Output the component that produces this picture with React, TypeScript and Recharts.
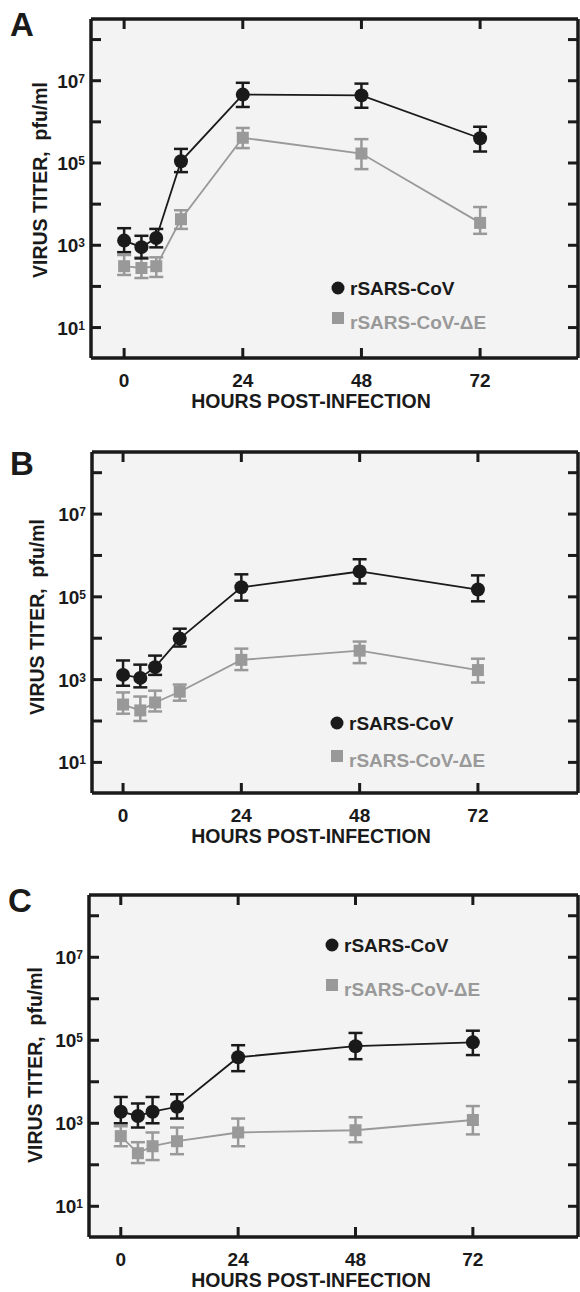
import React from "react";
import {
  LineChart,
  Line,
  XAxis,
  YAxis,
  CartesianGrid,
  ErrorBar,
} from "recharts";

// hours post-infection (first four are the early sampling points)
const HOURS = [0, 3.5, 6.5, 11.5, 24, 48, 72];

// panel A
const A_WT = [1.3e3, 9e2, 1.5e3, 1.1e5, 4.6e6, 4.4e6, 4e5];
const A_WT_HI = [2.6e3, 1.7e3, 2.5e3, 2.2e5, 8.9e6, 8.5e6, 7.6e5];
const A_WT_LO = [6.8e2, 4.8e2, 8.9e2, 6e4, 2.3e6, 2.2e6, 1.9e5];
const A_DE = [3.1e2, 2.8e2, 3.1e2, 4.3e3, 4.1e5, 1.7e5, 3.5e3];
const A_DE_HI = [5.8e2, 5.1e2, 5.1e2, 7.1e3, 7.1e5, 3.8e5, 8.5e3];
const A_DE_LO = [1.9e2, 1.6e2, 1.7e2, 2.5e3, 2.3e5, 7.1e4, 1.9e3];

// panel B
const B_WT = [1.3e3, 1.1e3, 2e3, 9.8e3, 1.7e5, 4.1e5, 1.5e5];
const B_WT_HI = [2.9e3, 2.3e3, 3.8e3, 1.7e4, 3.5e5, 8.1e5, 3.3e5];
const B_WT_LO = [7.1e2, 6.5e2, 1.3e3, 6.3e3, 8.1e4, 2.1e5, 7.8e4];
const B_DE = [2.5e2, 1.8e2, 2.8e2, 5.1e2, 3e3, 5e3, 1.7e3];
const B_DE_HI = [4.9e2, 3.9e2, 5.4e2, 7.6e2, 5.6e3, 8.3e3, 3.2e3];
const B_DE_LO = [1.5e2, 1e2, 1.7e2, 3.1e2, 1.7e3, 2.5e3, 8.5e2];

// panel C
const C_WT = [1.9e3, 1.5e3, 1.9e3, 2.5e3, 3.9e4, 7.2e4, 8.9e4];
const C_WT_HI = [4.3e3, 3e3, 4.3e3, 5e3, 7.6e4, 1.5e5, 1.7e5];
const C_WT_LO = [1e3, 7.9e2, 1e3, 1.3e3, 1.8e4, 3.5e4, 4.4e4];
const C_DE = [4.9e2, 1.9e2, 2.8e2, 3.7e2, 6e2, 6.8e2, 1.2e3];
const C_DE_HI = [8.5e2, 3.5e2, 6e2, 7.9e2, 1.3e3, 1.4e3, 2.6e3];
const C_DE_LO = [2.8e2, 1.1e2, 1.3e2, 1.8e2, 2.8e2, 3.5e2, 5.4e2];

const X_TICKS = [0, 24, 48, 72];
const Y_TICKS = [1e1, 1e2, 1e3, 1e4, 1e5, 1e6, 1e7, 1e8];
const SERIES_NAMES = ["rSARS-CoV", "rSARS-CoV-\u0394E"];

const INK = "#1a1a1a";
const GRAY = "#999999";
const FONT = "'Liberation Sans', Arial, sans-serif";
const Y_DOMAIN = [Math.pow(10, 0.26), Math.pow(10, 8.5)];
const FRAME = { stroke: INK, strokeWidth: 3.5 };
const TICK_LEN = 10;

const buildRows = (wt, wtHi, wtLo, de, deHi, deLo) =>
  HOURS.map((h, i) => ({
    h,
    wt: wt[i],
    wtErr: [wt[i] - wtLo[i], wtHi[i] - wt[i]],
    de: de[i],
    deErr: [de[i] - deLo[i], deHi[i] - de[i]],
  }));

const panels = [
  {
    letter: "A",
    rows: buildRows(A_WT, A_WT_HI, A_WT_LO, A_DE, A_DE_HI, A_DE_LO),
    top: 0, height: 420, plotTop: 19, plotBottom: 358, plotLeft: 91, plotRight: 578,
    xDomain: [-6.7, 91.8],
    letterY: 36, yTitleX: 47, yTitleY: 180,
    legendX: 338, legendY1: 288, legendY2: 318,
  },
  {
    letter: "B",
    rows: buildRows(B_WT, B_WT_HI, B_WT_LO, B_DE, B_DE_HI, B_DE_LO),
    top: 420, height: 430, plotTop: 452, plotBottom: 793, plotLeft: 92, plotRight: 578,
    xDomain: [-6.3, 92.3],
    letterY: 475, yTitleX: 44, yTitleY: 617,
    legendX: 337, legendY1: 723, legendY2: 756,
  },
  {
    letter: "C",
    rows: buildRows(C_WT, C_WT_HI, C_WT_LO, C_DE, C_DE_HI, C_DE_LO),
    top: 850, height: 442, plotTop: 895, plotBottom: 1237, plotLeft: 89, plotRight: 578,
    xDomain: [-6.5, 93.5],
    letterY: 912, yTitleX: 42, yTitleY: 1065,
    legendX: 332, legendY1: 945, legendY2: 985,
  },
];

// left tick: inward tick on both frame sides + label for odd decades
const LeftTick = ({ x, y, payload, rightX }: any) => {
  const e = Math.round(Math.log10(payload.value));
  return (
    <g>
      <line x1={x} y1={y} x2={x + TICK_LEN} y2={y} stroke={INK} strokeWidth={3} />
      <line x1={rightX} y1={y} x2={rightX - TICK_LEN} y2={y} stroke={INK} strokeWidth={3} />
      {e % 2 === 1 && (
        <text x={x - 6} y={y + 7} textAnchor="end" fontFamily={FONT} fontWeight="bold" fontSize={19} fill={INK}>
          10<tspan fontSize={12} dy={-5}>{e}</tspan>
        </text>
      )}
    </g>
  );
};

// bottom tick: inward tick on bottom and top frame + hour label
const BottomTick = ({ x, y, payload, topY }: any) => (
  <g>
    <line x1={x} y1={y} x2={x} y2={y - TICK_LEN} stroke={INK} strokeWidth={3} />
    <line x1={x} y1={topY} x2={x} y2={topY + TICK_LEN} stroke={INK} strokeWidth={3} />
    <text x={x} y={y + 29} textAnchor="middle" fontFamily={FONT} fontWeight="bold" fontSize={19} fill={INK}>
      {payload.value}
    </text>
  </g>
);

const CircleDot = (p: any) => (
  <circle key={`c-${p.index}`} cx={p.cx} cy={p.cy} r={7} fill={INK} />
);
const SquareDot = (p: any) => (
  <rect key={`s-${p.index}`} x={p.cx - 6} y={p.cy - 6} width={12} height={12} fill={GRAY} />
);

const Panel = ({ p }: any) => (
  <div style={{ position: "absolute", left: 0, top: p.top, width: 580, height: p.height }}>
    <LineChart
      width={580}
      height={p.height}
      data={p.rows}
      margin={{ top: p.plotTop - p.top - 2, right: 578 - p.plotRight, bottom: 0, left: 0 }}
    >
      <CartesianGrid horizontal={false} vertical={false} fill="#f3f3f3" />
      <XAxis
        dataKey="h"
        type="number"
        domain={p.xDomain}
        ticks={X_TICKS}
        allowDataOverflow
        height={p.height - (p.plotBottom - p.top)}
        axisLine={FRAME}
        tickLine={false}
        tickSize={0}
        tickMargin={0}
        interval={0}
        tick={<BottomTick topY={p.plotTop - p.top} />}
      />
      <XAxis
        xAxisId="t"
        orientation="top"
        type="number"
        domain={p.xDomain}
        allowDataOverflow
        height={2}
        axisLine={FRAME}
        tickLine={false}
        tick={false}
      />
      <YAxis
        type="number"
        scale="log"
        domain={Y_DOMAIN}
        ticks={Y_TICKS}
        allowDataOverflow
        width={p.plotLeft}
        axisLine={FRAME}
        tickLine={false}
        tickSize={0}
        tickMargin={0}
        interval={0}
        tick={<LeftTick rightX={p.plotRight} />}
      />
      <YAxis
        yAxisId="r"
        orientation="right"
        type="number"
        domain={[0, 1]}
        allowDataOverflow
        width={2}
        axisLine={FRAME}
        tickLine={false}
        tick={false}
      />
      <Line
        dataKey="de"
        name={SERIES_NAMES[1]}
        type="linear"
        stroke={GRAY}
        strokeWidth={1.8}
        dot={SquareDot}
        isAnimationActive={false}
      >
        <ErrorBar dataKey="deErr" direction="y" width={7} stroke={GRAY} strokeWidth={2.5} />
      </Line>
      <Line
        dataKey="wt"
        name={SERIES_NAMES[0]}
        type="linear"
        stroke={INK}
        strokeWidth={1.8}
        dot={CircleDot}
        isAnimationActive={false}
      >
        <ErrorBar dataKey="wtErr" direction="y" width={7} stroke={INK} strokeWidth={2.5} />
      </Line>
    </LineChart>
  </div>
);

const Overlay = () => (
  <svg
    width={580}
    height={1292}
    style={{ position: "absolute", left: 0, top: 0, pointerEvents: "none" }}
    fontFamily={FONT}
    fontWeight="bold"
  >
    {panels.map((p) => (
      <g key={p.letter}>
        <text x={p.letter === "C" ? 8 : 10} y={p.letterY} fontSize={33} fill={INK}>
          {p.letter}
        </text>
        <text
          transform={`translate(${p.yTitleX}, ${p.yTitleY}) rotate(-90)`}
          textAnchor="middle"
          fontSize={19.5}
          fill={INK}
          style={{ whiteSpace: "pre" }}
        >
          {"VIRUS TITER,  pfu/ml"}
        </text>
        <text x={311} y={p.plotBottom + 50} textAnchor="middle" fontSize={19.5} fill={INK}>
          HOURS POST-INFECTION
        </text>
        <circle cx={p.legendX} cy={p.legendY1} r={6.5} fill={INK} />
        <text x={p.legendX + 12} y={p.legendY1 + 7} fontSize={19} fill={INK}>
          {SERIES_NAMES[0]}
        </text>
        <rect x={p.legendX - 6} y={p.legendY2 - 6} width={12} height={12} fill={GRAY} />
        <text x={p.legendX + 12} y={p.legendY2 + 11} fontSize={19} fill={GRAY}>
          {SERIES_NAMES[1]}
        </text>
      </g>
    ))}
  </svg>
);

export default function App() {
  return (
    <div style={{ position: "absolute", left: 0, top: 0, width: 580, height: 1292, background: "#fff" }}>
      {panels.map((p) => (
        <Panel key={p.letter} p={p} />
      ))}
      <Overlay />
    </div>
  );
}
